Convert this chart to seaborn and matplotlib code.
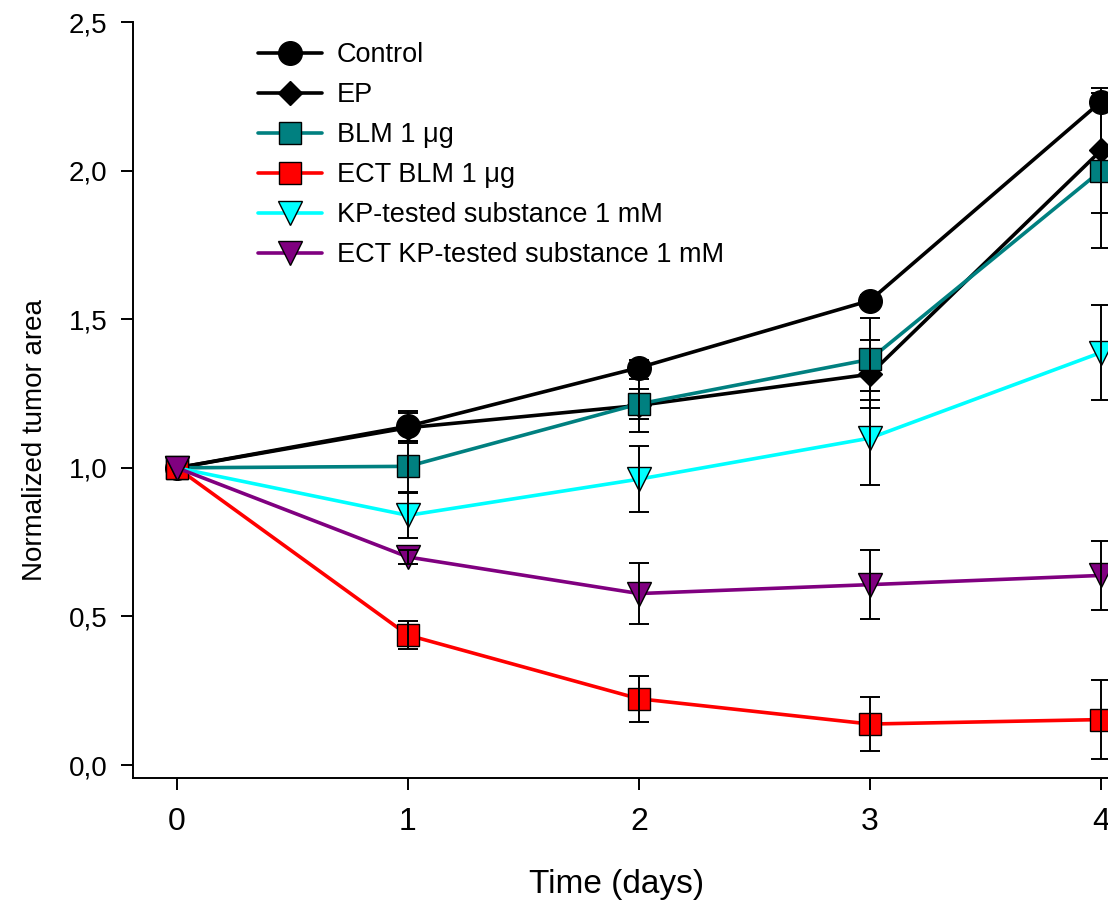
import matplotlib
matplotlib.use("Agg")
import matplotlib.pyplot as plt
import seaborn as sns
from matplotlib import font_manager

# Data (mean +/- error per day)
days = [0, 1, 2, 3, 4]
groups = ["Control", "EP", "BLM 1 μg", "ECT BLM 1 μg",
          "KP-tested substance 1 mM", "ECT KP-tested substance 1 mM"]

control = [1.0, 1.14, 1.337, 1.563, 2.232]
control_err = [0.0, 0.05, 0.025, 0.02, 0.01]
ep = [1.0, 1.135, 1.21, 1.315, 2.068]
ep_err = [0.0, 0.05, 0.09, 0.115, 0.21]
blm = [1.0, 1.005, 1.215, 1.365, 2.0]
blm_err = [0.0, 0.085, 0.05, 0.138, 0.26]
ect_blm = [1.0, 0.437, 0.223, 0.138, 0.153]
ect_blm_err = [0.0, 0.047, 0.077, 0.092, 0.132]
kp = [1.0, 0.84, 0.962, 1.10, 1.388]
kp_err = [0.0, 0.075, 0.11, 0.157, 0.16]
ect_kp = [1.0, 0.70, 0.577, 0.607, 0.638]
ect_kp_err = [0.0, 0.025, 0.103, 0.116, 0.115]

y_ticks = [0.0, 0.5, 1.0, 1.5, 2.0, 2.5]
y_tick_labels = ["0,0", "0,5", "1,0", "1,5", "2,0", "2,5"]
x_tick_labels = ["0", "1", "2", "3", "4"]

sns.set_style("ticks")
plt.rcParams["font.family"] = ["Liberation Sans", "DejaVu Sans"]
for key in ["text.color", "axes.labelcolor", "xtick.color", "ytick.color"]:
    plt.rcParams[key] = "black"

names = {f.name for f in font_manager.fontManager.ttflist}
narrow = "Liberation Sans Narrow" if "Liberation Sans Narrow" in names else "Liberation Sans"
x_size = 26 if narrow == "Liberation Sans Narrow" else 23

fig = plt.figure(figsize=(11.08, 9.02), dpi=100)
# axes run past the right edge, like the cropped original
ax = fig.add_axes([0.1201, 0.137, 0.957, 0.8386])

series = [
    (control, control_err, "black", "o", 17),
    (ep, ep_err, "black", "D", 12),
    (blm, blm_err, "#008080", "s", 15.5),
    (ect_blm, ect_blm_err, "#ff0000", "s", 15.5),
    (kp, kp_err, "#00ffff", "v", 17),
    (ect_kp, ect_kp_err, "#800080", "v", 17),
]

for i, (name, (vals, errs, color, marker, ms)) in enumerate(zip(groups, series)):
    sns.lineplot(x=days, y=vals, ax=ax, color=color, marker=marker,
                 markersize=ms, markerfacecolor=color, markeredgecolor="black",
                 markeredgewidth=1.0, linewidth=2.6, label=name, zorder=3 + 2 * i)
    ax.errorbar(days[1:], vals[1:], yerr=errs[1:], fmt="none", ecolor="black",
                elinewidth=1.4, capsize=7.2, capthick=1.4, zorder=4 + 2 * i)

ax.set_xlim(-0.19, 4.4)
ax.set_ylim(-0.045, 2.5)

ax.set_yticks(y_ticks)
ax.set_yticklabels(y_tick_labels, fontsize=20)
ax.set_xticks(days)
ax.set_xticklabels(x_tick_labels, fontsize=x_size, fontfamily=narrow)
ax.tick_params(axis="both", direction="out", length=8.6, width=1.4, color="black")
ax.tick_params(axis="y", pad=10)
ax.tick_params(axis="x", pad=12)

ax.set_ylabel("Normalized tumor area", fontsize=20)
ax.yaxis.set_label_coords(-0.08, 0.447)
ax.set_xlabel("Time (days)", fontsize=x_size + 1, fontfamily=narrow)
ax.xaxis.set_label_coords(0.4564, -0.12)

sns.despine(ax=ax)
for sp in ["left", "bottom"]:
    ax.spines[sp].set_linewidth(1.4)
    ax.spines[sp].set_color("black")

ax.legend(loc="upper left", bbox_to_anchor=(258 / 1108, 1 - 42 / 902),
          bbox_transform=fig.transFigure, frameon=False, fontsize=19.5,
          handlelength=2.35, handletextpad=0.55, labelspacing=0.52,
          borderpad=0, borderaxespad=0)

fig.savefig("out.png", dpi=100)
